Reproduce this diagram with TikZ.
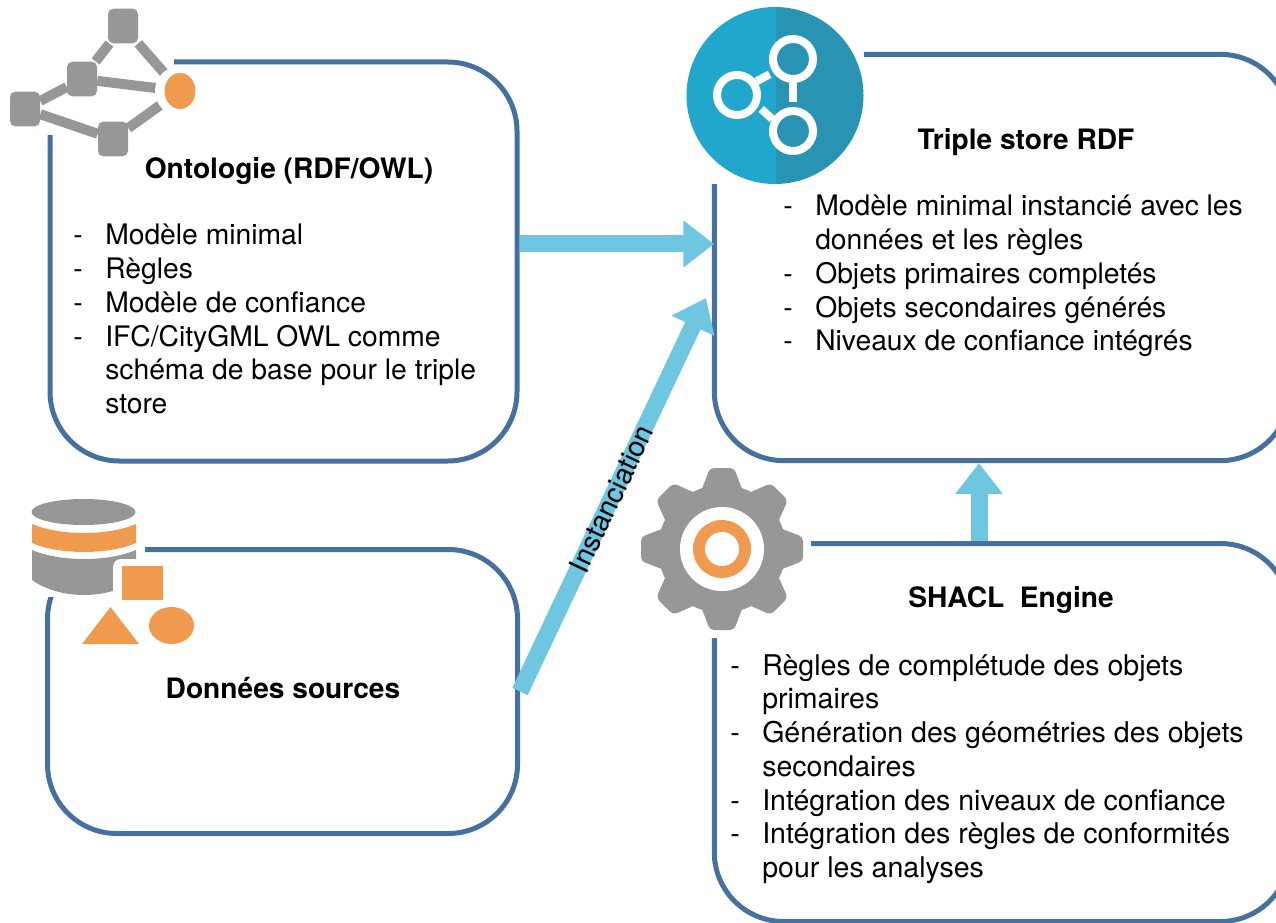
\documentclass[tikz,border=0pt]{standalone}
\usepackage{fontspec}
\setmainfont{TeX Gyre Heros}
\usetikzlibrary{positioning, arrows.meta, shapes.geometric}
\definecolor{boxblue}{HTML}{44719F}
\definecolor{arrowblue}{HTML}{6EC6E0}
\definecolor{icongray}{HTML}{979797}
\definecolor{iconorange}{HTML}{F09A50}
\definecolor{discleft}{HTML}{21A6CC}
\definecolor{discright}{HTML}{2893B3}
\newcommand{\tiret}{\makebox[24pt][l]{-}}
\newcommand{\suite}{\hspace*{24pt}}

\begin{document}
\begin{tikzpicture}[
    x=0.75pt, y=-0.75pt,
    % GLOBAL CFG
    font=\fontsize{21.2}{25.3}\selectfont,
    % Styles
    panel/.style={% For main boxes
        rectangle,
        rounded corners=52pt,
        draw=boxblue,
        line width=3.75pt,
    },
    masque/.style={% Hides the box corner behind an icon
        fill=white,
    },
    titre/.style={% For box titles
        font=\fontsize{21.1}{25.3}\selectfont\bfseries,
        inner sep=0pt,
    },
    liste/.style={% For bullet lists
        anchor=north west,
        align=left,
        inner sep=0pt,
    },
    bigarrow/.style={% For thick arrows
        draw=arrowblue,
        line width=12.75pt,
        -{Triangle[length=23pt,width=34pt]},
    },
    carre/.style={% Gray nodes of the network icon
        rectangle,
        rounded corners=4pt,
        fill=icongray,
        minimum width=22.5pt,
        minimum height=26pt,
        inner sep=0pt,
    },
    lien/.style={% Gray links of the network icon
        draw=icongray,
        line width=7.5pt,
    },
    anneau/.style={% White rings of the disc icon
        circle,
        draw=white,
        line width=6pt,
        minimum size=30pt,
        inner sep=0pt,
    },
    tige/.style={% White stubs of the disc icon
        draw=white,
        line width=6pt,
    },
    ]

    \clip (0,0) rectangle (1276,923);
    \useasboundingbox (0,0) rectangle (1276,923);

    % Draw boxes
    \node [panel, minimum width=350.25pt, minimum height=299.25pt] (onto) at (283.5,261.5) {};
    \node [panel, minimum width=352.5pt, minimum height=213pt] (source) at (282.5,691.5) {};
    \node [panel, minimum width=431.6pt, minimum height=304.7pt] (store) at (1002,257.5) {};
    \node [panel, minimum width=431.6pt, minimum height=283.5pt] (engine) at (1002,732.5) {};

    % Hide corners behind the icons
    \fill [masque] (0,0) rectangle (174,135);
    \fill [masque] (0,480) rectangle (145,597);
    \fill [masque] (680,0) rectangle (864,184);
    \fill [masque] (640,465) rectangle (811,638);

    % Draw network icon
    \node [carre] (n1) at (123,26) {};
    \node [carre] (n2) at (82,79) {};
    \node [carre] (n3) at (25,109) {};
    \node [carre] (n4) at (113,139) {};
    \node [ellipse, fill=iconorange, minimum width=23pt, minimum height=27pt, inner sep=0pt] (n5) at (180,91) {};
    \draw [lien] (n1) -- (n2);
    \draw [lien] (n2) -- (n3);
    \draw [lien] (n3) -- (n4);
    \draw [lien] (n1) -- (n5);
    \draw [lien] (n2) -- (n5);
    \draw [lien] (n4) -- (n5);
    \fill [white] (n5) circle (25);
    \fill [iconorange] (n5) ellipse (15.5 and 18);

    % Draw database icon
    \fill [icongray] (32,550) .. controls (60,562) and (108,562) .. (136,550) -- (136,575)
        -- (136,580) .. controls (108,600) and (60,600) .. (32,580) -- cycle;
    \fill [iconorange] (32,524) .. controls (60,536) and (108,536) .. (136,524) -- (136,543)
        .. controls (108,555) and (60,555) .. (32,543) -- cycle;
    \fill [icongray] (83.5,512) ellipse (52 and 13);
    \fill [white, rounded corners=6pt] (113,559) rectangle (170,610);
    \fill [iconorange] (122,566) rectangle (163,600);
    \fill [iconorange] (82,644) -- (139,644) -- (110.5,607) -- cycle;
    \fill [iconorange] (171.5,625.5) ellipse (22.5 and 18.5);

    % Draw disc icon
    \begin{scope}
        \clip (775,95.5) circle (88.5);
        \fill [discleft] (680,0) rectangle (776,190);
        \fill [discright] (776,0) rectangle (870,190);
    \end{scope}
    \node [anneau] (r1) at (793,59) {};
    \node [anneau] (r2) at (737,95) {};
    \node [anneau] (r3) at (793,131) {};
    \draw [tige] (r1.south) -- ++(0,19);
    \draw [tige] (r2.35) -- ++(13,-7);
    \draw [tige] (r3.150) -- ++(-11,-10);

    % Draw gear icon
    \fill [icongray] (722,549) circle (64);
    \foreach \a in {0,45,...,315} {
        \fill [icongray, rounded corners=3pt, rotate around={\a:(722,549)}]
            (700,494) -- (710,468) -- (734,468) -- (744,494) -- cycle;
    }
    \fill [white] (722,549) circle (42);
    \fill [iconorange] (722,549) circle (29);
    \fill [white] (722,549) circle (17);

    % Connect all
    \coordinate (in1) at (714,244);
    \coordinate (in2) at (706,298);
    \coordinate (up) at (979,0);
    \draw [bigarrow] (onto.east |- in1) -- (in1);
    \draw [bigarrow] (source.east) -- (in2)
        node [pos=0.49, sloped, font=\fontsize{21.3}{24}\selectfont, inner sep=0pt] (inst) {Instanciation};
    \draw [bigarrow] (engine.north -| up) -- (store.south -| up);

    % Draw titles
    \node [titre] (t1) at (289,171) {Ontologie (RDF/OWL)};
    \node [titre] (t2) at (283,688) {Données sources};
    \node [titre] (t3) at (1026,142) {Triple store RDF};
    \node [titre] (t4) at (1011,600) {SHACL\ \ Engine};

    % Draw lists
    \node [liste] (l1) at (73,224) {\tiret Modèle minimal\\
        \tiret Règles\\
        \tiret Modèle de confiance\\
        \tiret IFC/CityGML OWL comme\\
        \suite schéma de base pour le triple\\
        \suite store};
    \node [liste] (l2) at (783,195) {\tiret Modèle minimal instancié avec les\\
        \suite données et les règles\\
        \tiret Objets primaires completés\\
        \tiret Objets secondaires générés\\
        \tiret Niveaux de confiance intégrés};
    \node [liste, font=\fontsize{21.4}{25.3}\selectfont] (l3) at (730,654) {\tiret Règles de complétude des objets\\
        \suite primaires\\
        \tiret Génération des géométries des objets\\
        \suite secondaires\\
        \tiret Intégration des niveaux de confiance\\
        \tiret Intégration des règles de conformités\\
        \suite pour les analyses};

\end{tikzpicture}
\end{document}
